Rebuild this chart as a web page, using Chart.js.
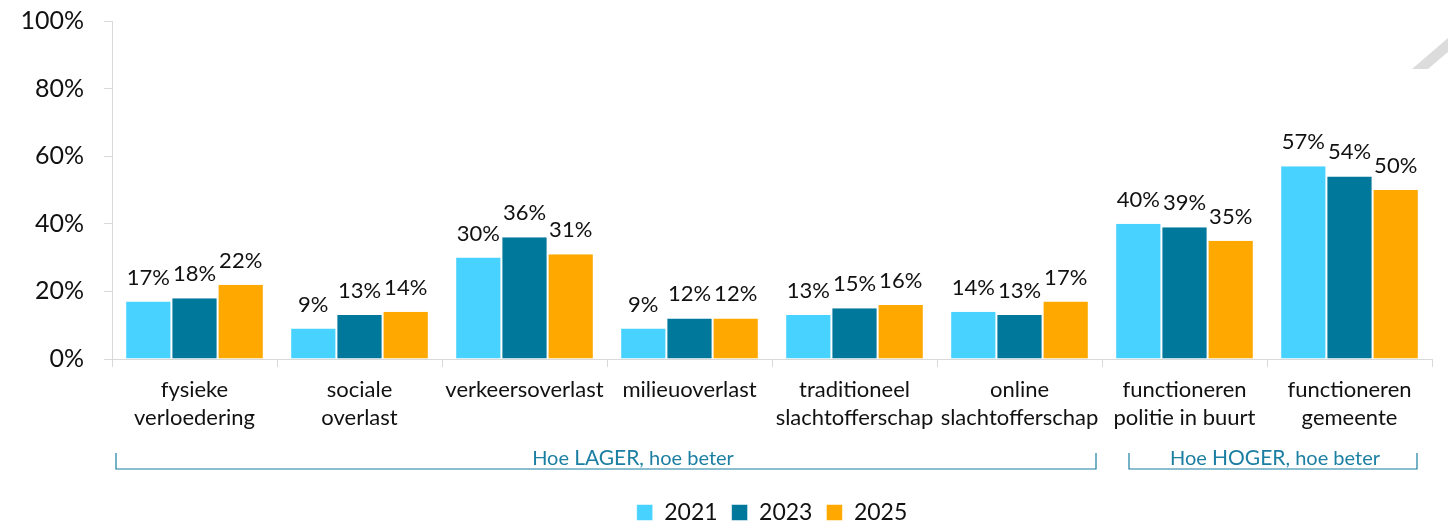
<!DOCTYPE html>
<html>
<head>
<meta charset="utf-8">
<script src="https://cdn.jsdelivr.net/npm/chart.js@4"></script>
<style>
    html, body { margin: 0; padding: 0; background: #fff; }
    #wrap { width: 1448px; height: 524px; position: relative; }
</style>
</head>
<body>
<div id="wrap"><canvas id="chart"></canvas></div>
<script>
const categories = [
    ["fysieke", "verloedering"],
    ["sociale", "overlast"],
    "verkeersoverlast",
    "milieuoverlast",
    ["traditioneel", "slachtofferschap"],
    ["online", "slachtofferschap"],
    ["functioneren", "politie in buurt"],
    ["functioneren", "gemeente"]
];
const years = ["2021", "2023", "2025"];
const values2021 = [17, 9, 30, 9, 13, 14, 40, 57];
const values2023 = [18, 13, 36, 12, 15, 13, 39, 54];
const values2025 = [22, 14, 31, 12, 16, 17, 35, 50];
const yTicks = [0, 20, 40, 60, 80, 100];
// bracket groups below the axis: [first category, last category, text]
const groups = [
    [0, 5, ["Hoe ", "LAGER", ", hoe beter"]],
    [6, 7, ["Hoe ", "HOGER", ", hoe beter"]]
];
// inset of each bracket from its category edges, and text shift
const groupInset = [[4, 6, 27], [27, 15, 2]];

const FONT = "Lato, 'Open Sans', sans-serif";
const TEAL = "#1c7fa2";

const barLabels = {
    id: "barLabels",
    afterDatasetsDraw(chart) {
        const ctx = chart.ctx;
        ctx.save();
        ctx.font = "22px " + FONT;
        ctx.fillStyle = "#111";
        ctx.textAlign = "center";
        ctx.textBaseline = "alphabetic";
        chart.data.datasets.forEach((ds, i) => {
            chart.getDatasetMeta(i).data.forEach((bar, j) => {
                ctx.fillText(ds.data[j] + "%", bar.x, bar.y - 17);
            });
        });
        ctx.restore();
    }
};

const brackets = {
    id: "brackets",
    afterDraw(chart) {
        const ctx = chart.ctx;
        const x = chart.scales.x;
        const half = (x.getPixelForValue(1) - x.getPixelForValue(0)) / 2;
        const lineY = chart.chartArea.bottom + 110;
        ctx.save();
        ctx.strokeStyle = TEAL;
        ctx.fillStyle = TEAL;
        ctx.lineWidth = 1.2;
        groups.forEach(([a, b, parts], g) => {
            const left = x.getPixelForValue(a) - half + groupInset[g][0];
            const right = x.getPixelForValue(b) + half - groupInset[g][1];
            ctx.beginPath();
            ctx.moveTo(left, lineY - 16);
            ctx.lineTo(left, lineY);
            ctx.lineTo(right, lineY);
            ctx.lineTo(right, lineY - 16);
            ctx.stroke();
            const fonts = ["20px " + FONT, "21px " + FONT, "20px " + FONT];
            let total = 0;
            parts.forEach((p, k) => { ctx.font = fonts[k]; total += ctx.measureText(p).width; });
            let cx = (left + right) / 2 - total / 2 + groupInset[g][2];
            ctx.textAlign = "left";
            ctx.textBaseline = "alphabetic";
            parts.forEach((p, k) => {
                ctx.font = fonts[k];
                ctx.fillText(p, cx, lineY - 4);
                cx += ctx.measureText(p).width;
            });
        });
        // light grey decoration stripe in the top right corner
        const w = chart.width;
        ctx.fillStyle = "#dcdcdc";
        ctx.beginPath();
        ctx.moveTo(w - 36, 69);
        ctx.lineTo(w, 38);
        ctx.lineTo(w, 52);
        ctx.lineTo(w - 20, 69);
        ctx.closePath();
        ctx.fill();
        ctx.restore();
    }
};

const shiftLegend = {
    id: "shiftLegend",
    afterLayout(chart) {
        const lg = chart.legend;
        const shift = (chart.chartArea.left + chart.chartArea.right) / 2 - (lg.left + lg.right) / 2;
        lg.left += shift;
        lg.right += shift;
        lg.top += 10;
        lg.bottom += 10;
    }
};

const ctx = document.getElementById("chart").getContext("2d");
const chart = new Chart(ctx, {
    type: "bar",
    data: {
        labels: categories,
        datasets: [
            { label: years[0], data: values2021, backgroundColor: "#47d2ff" },
            { label: years[1], data: values2023, backgroundColor: "#00789c" },
            { label: years[2], data: values2025, backgroundColor: "#ffa900" }
        ].map(d => Object.assign(d, {
            borderColor: "#ffffff",
            borderWidth: { left: 1, right: 1 },
            borderSkipped: false,
            categoryPercentage: 0.84,
            barPercentage: 1
        }))
    },
    options: {
        responsive: true,
        maintainAspectRatio: false,
        animation: false,
        layout: { padding: { top: 21, right: 16, bottom: 0, left: 0 } },
        plugins: {
            legend: {
                position: "bottom",
                labels: {
                    font: { family: FONT, size: 23 },
                    color: "#111",
                    boxWidth: 16,
                    boxHeight: 16,
                    padding: 14
                }
            },
            tooltip: { enabled: false }
        },
        scales: {
            x: {
                grid: {
                    drawOnChartArea: false,
                    tickLength: 8,
                    color: "#d9d9d9",
                    offset: true
                },
                border: { color: "#d9d9d9" },
                ticks: {
                    font: { family: FONT, size: 22, lineHeight: 1.27 },
                    color: "#111",
                    maxRotation: 0,
                    autoSkip: false,
                    padding: 9
                },
                afterFit(scale) { scale.height = 118; }
            },
            y: {
                min: 0,
                max: 100,
                afterBuildTicks(scale) { scale.ticks = yTicks.map(v => ({ value: v })); },
                grid: {
                    drawOnChartArea: false,
                    tickLength: 8,
                    color: "#d9d9d9"
                },
                border: { color: "#d9d9d9" },
                ticks: {
                    font: { family: FONT, size: 25 },
                    color: "#111",
                    padding: 20,
                    callback: v => v + "%"
                },
                afterFit(scale) {
                    scale.width = 112;
                    scale.paddingTop = 0;
                    scale.paddingBottom = 0;
                }
            }
        }
    },
    plugins: [barLabels, brackets, shiftLegend]
});
</script>
</body>
</html>
